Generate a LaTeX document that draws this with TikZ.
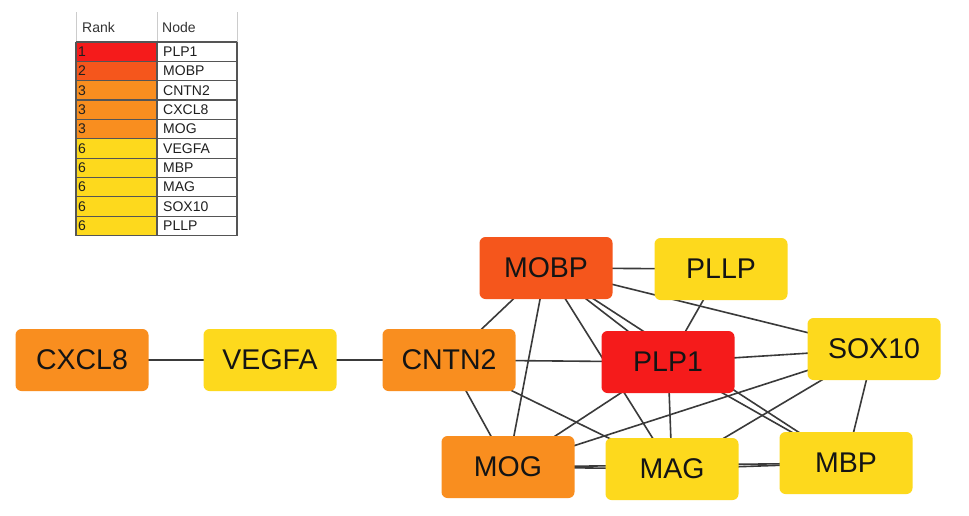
\documentclass[tikz,border=0pt]{standalone}
\usepackage{tikz}
\usepackage{fontspec}
\setmainfont{Liberation Sans}
\pgfdeclarelayer{bglayer}
\pgfdeclarelayer{edgelayer}
\pgfsetlayers{bglayer,edgelayer,main}
\definecolor{cRed}{HTML}{F51B1B}
\definecolor{cOrRed}{HTML}{F5561C}
\definecolor{cOrange}{HTML}{F98E1F}
\definecolor{cYellow}{HTML}{FDD91D}
\definecolor{edgegray}{HTML}{3A3A3A}
\definecolor{gridgray}{HTML}{555555}
\definecolor{lightgrid}{HTML}{CCCCCC}
\begin{document}
\begin{tikzpicture}[x=1pt,y=-1pt,
  gene/.style={rectangle, rounded corners=6pt, minimum width=133pt, minimum height=62pt,
    inner sep=0pt, font=\fontsize{28.5}{30}\selectfont, text=black!92},
  link/.style={draw=edgegray, line width=1.6pt},
  celltext/.style={anchor=west, inner sep=0pt, font=\fontsize{14}{15}\selectfont, text=black!88},
  headtext/.style={anchor=west, inner sep=0pt, font=\fontsize{14}{15}\selectfont, text=black!80},
  gridline/.style={draw=gridgray, line width=1.2pt}]
\useasboundingbox (0,0) rectangle (969,515);
\begin{pgfonlayer}{bglayer}
  \fill[white] (0,0) rectangle (969,515);
\end{pgfonlayer}

% ---------- legend table ----------
\draw[lightgrid, line width=0.8pt] (76,12) -- (76,42);
\draw[lightgrid, line width=0.8pt] (157,12) -- (157,42);
\draw[lightgrid, line width=0.8pt] (237,12) -- (237,42);
\node[headtext] (hRank) at (82,27) {Rank};
\node[headtext] (hNode) at (162,27) {Node};
\foreach \i/\c in {1/cRed, 2/cOrRed, 3/cOrange, 4/cOrange, 5/cOrange,
    6/cYellow, 7/cYellow, 8/cYellow, 9/cYellow, 10/cYellow}{
  \fill[\c] (76,{42+(\i-1)*19.35}) rectangle (157,{42+\i*19.35});
}
\foreach \i in {0,...,10}{
  \draw[gridline] (76,{42+\i*19.35}) -- (237,{42+\i*19.35});
}
\draw[gridline] (76,42) -- (76,235.5);
\draw[gridline] (157,42) -- (157,235.5);
\draw[gridline] (237,42) -- (237,235.5);
\foreach \i/\r/\g in {1/1/PLP1, 2/2/MOBP, 3/3/CNTN2, 4/3/CXCL8, 5/3/MOG,
    6/6/VEGFA, 7/6/MBP, 8/6/MAG, 9/6/SOX10, 10/6/PLLP}{
  \node[celltext] (rank\i) at (78,{42+(\i-0.5)*19.35}) {\r};
  \node[celltext] (name\i) at (163,{42+(\i-0.5)*19.35}) {\g};
}

% ---------- network nodes ----------
\node[gene, fill=cOrange] (CXCL8) at (82,360) {CXCL8};
\node[gene, fill=cYellow] (VEGFA) at (270,360) {VEGFA};
\node[gene, fill=cOrange] (CNTN2) at (449,360) {CNTN2};
\node[gene, fill=cOrRed]  (MOBP)  at (546,268) {MOBP};
\node[gene, fill=cYellow] (PLLP)  at (721,269) {PLLP};
\node[gene, fill=cRed]    (PLP1)  at (668,362) {PLP1};
\node[gene, fill=cYellow] (SOX10) at (874,349) {SOX10};
\node[gene, fill=cOrange] (MOG)   at (508,467) {MOG};
\node[gene, fill=cYellow] (MAG)   at (672,469) {MAG};
\node[gene, fill=cYellow] (MBP)   at (846,463) {MBP};

% ---------- edges ----------
\begin{pgfonlayer}{edgelayer}
  \draw[link] (CXCL8.center) -- (VEGFA.center);
  \draw[link] (VEGFA.center) -- (CNTN2.center);
  \draw[link] (CNTN2.center) -- (PLP1.center);
  \draw[link] (CNTN2.center) -- (MOBP.center);
  \draw[link] (CNTN2.center) -- (MOG.center);
  \draw[link] (CNTN2.center) -- (MAG.center);
  \draw[link] (MOBP.center) -- (PLLP.center);
  \draw[link] (MOBP.center) -- (SOX10.center);
  \draw[link] (MOBP.center) -- (PLP1.center);
  \draw[link] (MOBP.center) -- (MBP.center);
  \draw[link] (MOBP.center) -- (MAG.center);
  \draw[link] (MOBP.center) -- (MOG.center);
  \draw[link] (PLLP.center) -- (PLP1.center);
  \draw[link] (PLP1.center) -- (SOX10.center);
  \draw[link] (PLP1.center) -- (MAG.center);
  \draw[link] (PLP1.center) -- (MOG.center);
  \draw[link] (PLP1.center) -- (MBP.center);
  \draw[link] (SOX10.center) -- (MOG.center);
  \draw[link] (SOX10.center) -- (MAG.center);
  \draw[link] (SOX10.center) -- (MBP.center);
  \draw[link] (MOG.center) -- (MAG.center);
  \draw[link] (MOG.center) -- (MBP.center);
  \draw[link] (MAG.center) -- (MBP.center);
\end{pgfonlayer}
\end{tikzpicture}
\end{document}
